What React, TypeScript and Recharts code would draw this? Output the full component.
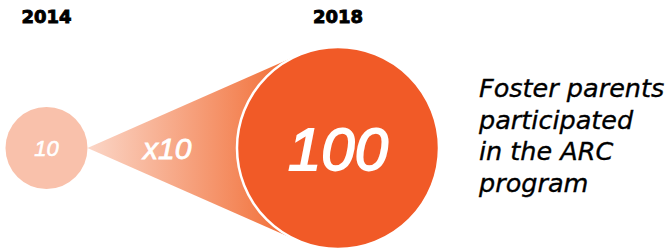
import React from "react";
import { ScatterChart, Scatter, XAxis, YAxis, ZAxis } from "recharts";

// Foster parents in the ARC program, 2014 vs 2018
const years = [2014, 2018];
const parents = [10, 100];
const growthLabel = "x10";
const captionLines = ["Foster parents", "participated", "in the ARC", "program"];

const data = years.map((year, i) => ({ year, parents: parents[i], row: 0 }));

const LIGHT = "#F9C1AB";
const ORANGE = "#F15A27";
const HAND_FONT = "'Liberation Sans', sans-serif";

export default function App() {
  // the 2014 bubble is drawn first, the 2018 bubble reads it to draw the cone
  const placed: Record<number, { cx: number; cy: number; r: number }> = {};

  const renderBubble = (props: any) => {
    const { cx, cy, payload } = props;
    const r = props.size ? Math.sqrt(props.size / Math.PI) : props.width / 2;
    placed[payload.year] = { cx, cy, r };
    const first = payload.year === years[0];

    if (first) {
      return (
        <g>
          <circle cx={cx} cy={cy} r={r} fill={LIGHT} />
          <text
            x={cx}
            y={cy + 8}
            textAnchor="middle"
            fill="#fff"
            stroke="#fff"
            strokeWidth={0.6}
            fontSize={22}
            fontStyle="italic"
            fontFamily={HAND_FONT}
          >
            {payload.parents}
          </text>
        </g>
      );
    }

    const prev = placed[years[0]];
    let cone = null;
    if (prev) {
      const ax = prev.cx + prev.r;
      const ay = prev.cy;
      const d = cx - ax;
      const cosT = r / d;
      const sinT = Math.sqrt(1 - cosT * cosT);
      const tx = cx - r * cosT;
      const top = cy - r * sinT;
      const bot = cy + r * sinT;
      cone = (
        <g>
          <defs>
            <linearGradient id="coneFill" gradientUnits="userSpaceOnUse" x1={ax} y1={0} x2={tx} y2={0}>
              <stop offset="0%" stopColor="#FBD6C7" />
              <stop offset="100%" stopColor="#F1692F" />
            </linearGradient>
          </defs>
          <polygon points={`${ax},${ay} ${tx},${top} ${cx},${cy} ${tx},${bot}`} fill="url(#coneFill)" />
          <text
            x={(ax + cx - r) / 2 + 5}
            y={cy + 11}
            textAnchor="middle"
            fill="#fff"
            stroke="#fff"
            strokeWidth={0.8}
            fontSize={30}
            fontStyle="italic"
            fontFamily={HAND_FONT}
          >
            {growthLabel}
          </text>
        </g>
      );
    }

    return (
      <g>
        {cone}
        <circle cx={cx} cy={cy} r={r} fill={ORANGE} stroke="#fff" strokeWidth={2.5} />
        <text
          x={cx}
          y={cy + 22}
          textAnchor="middle"
          fill="#fff"
          stroke="#fff"
          strokeWidth={1.8}
          fontSize={60}
          fontStyle="italic"
          fontFamily={HAND_FONT}
        >
          {payload.parents}
        </text>
      </g>
    );
  };

  return (
    <div style={{ position: "absolute", left: 0, top: 0 }}>
      <ScatterChart width={669} height={249} margin={{ top: 0, right: 0, bottom: 0, left: 0 }}>
        <XAxis
          type="number"
          dataKey="year"
          orientation="top"
          height={47}
          domain={[2013.362, 2022.542]}
          allowDataOverflow
          ticks={years}
          axisLine={false}
          tickLine={false}
          tickSize={0}
          tickMargin={24}
          tick={{
            fill: "#000",
            stroke: "#000",
            strokeWidth: 0.9,
            fontSize: 18,
            fontWeight: 700,
            fontFamily: "'DejaVu Sans', sans-serif",
          }}
        />
        <YAxis type="number" dataKey="row" domain={[-1, 1]} hide />
        <ZAxis type="number" dataKey="parents" domain={[10, 100]} range={[5281, 32047]} />
        <Scatter data={data} shape={renderBubble} isAnimationActive={false} />
        <g>
          {captionLines.map((line, i) => (
            <text
              key={line}
              x={479}
              y={97 + i * 31.7}
              fill="#000"
              stroke="#000"
              strokeWidth={0.35}
              fontSize={25.5}
              fontStyle="italic"
              fontFamily="'DejaVu Sans', sans-serif"
            >
              {line}
            </text>
          ))}
        </g>
      </ScatterChart>
    </div>
  );
}
